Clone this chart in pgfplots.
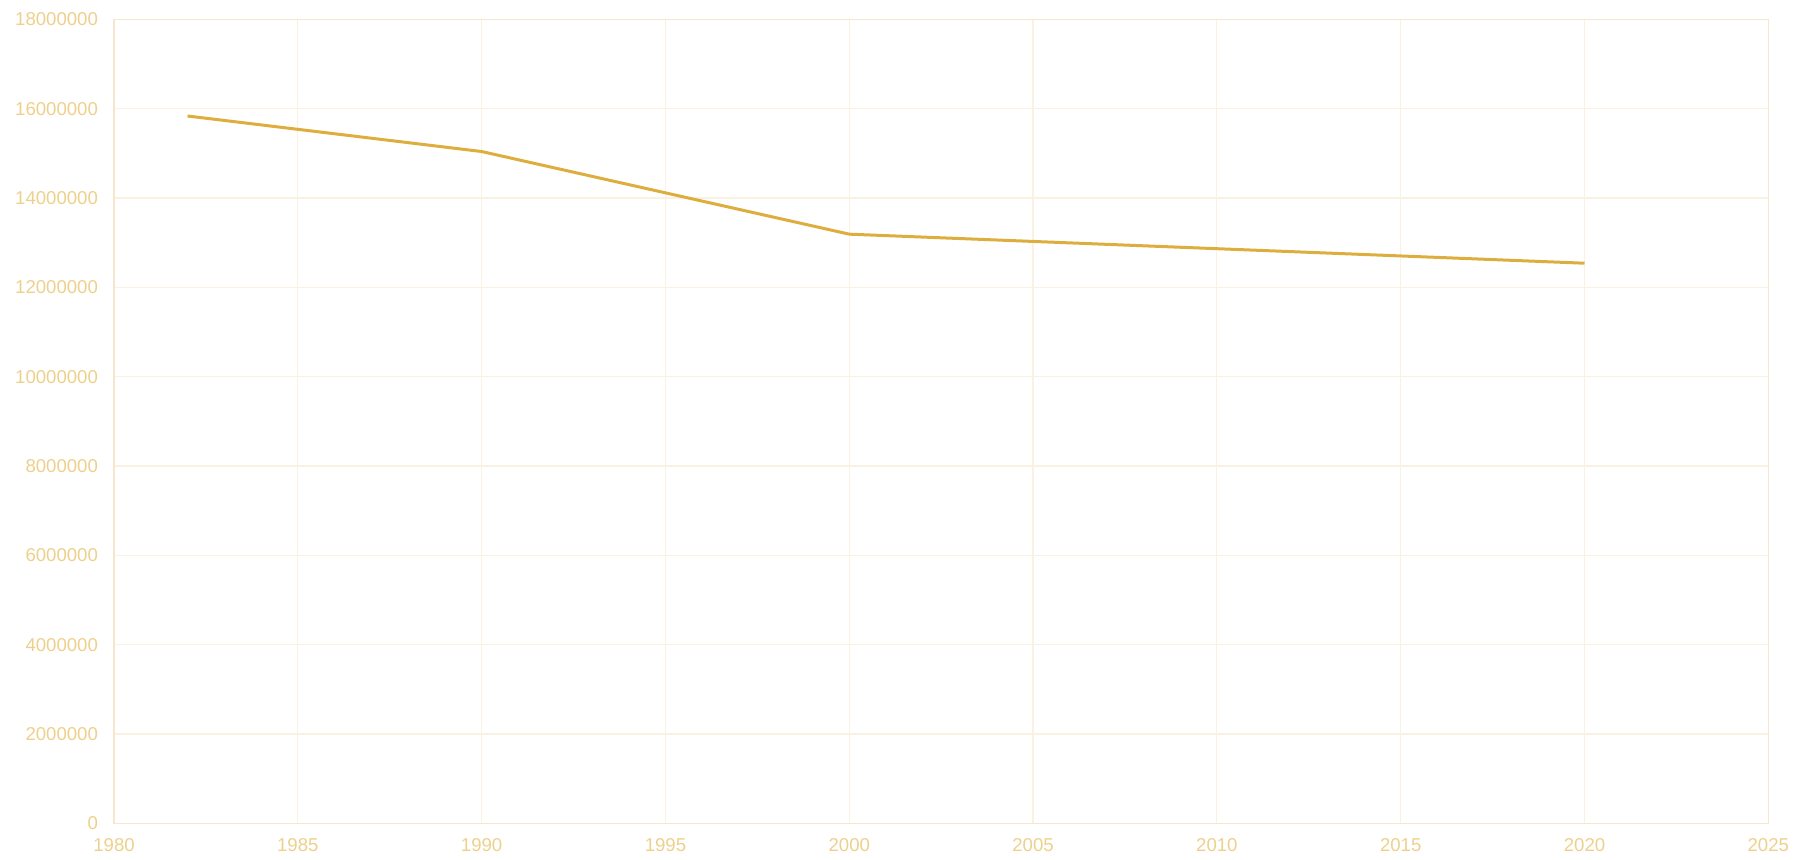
\documentclass[border=0pt]{standalone}
\usepackage{pgfplots}
\pgfplotsset{compat=1.18}
\usepackage{fontspec}
\setmainfont{Liberation Sans}
\definecolor{linec}{HTML}{DDAE3E}
\definecolor{tickc}{HTML}{EDD08C}
\definecolor{gridc}{HTML}{FAF1E0}
\definecolor{framec}{HTML}{F6E7CC}
\begin{document}
\begin{tikzpicture}
\begin{axis}[
  scale only axis,
  width=827pt, height=402pt,
  xmin=1980, xmax=2025, ymin=0, ymax=18000000,
  xtick={1980,1985,...,2025},
  ytick={0,2000000,...,18000000},
  scaled y ticks=false,
  /pgf/number format/assume math mode=true,
  xticklabel style={/pgf/number format/1000 sep={}},
  yticklabel style={/pgf/number format/fixed,/pgf/number format/1000 sep={}},
  tick label style={font=\fontsize{9.3pt}{10pt}\selectfont, text=tickc},
  xticklabel style={yshift=-4pt},
  yticklabel style={xshift=-4.5pt},
  major tick length=0pt,
  grid=major,
  major grid style={gridc, line width=0.6pt},
  axis line style={framec, line width=0.7pt},
  clip=false,
]
\addplot[linec, line width=1.5pt, line join=round] coordinates {
  (1982,15835000) (1990,15040000) (2000,13190000) (2020,12540000)
};
\coordinate (bl) at (axis description cs:-0.06892,-0.0444);
\coordinate (tr) at (axis description cs:1.02037,1.024);
\end{axis}
\pgfresetboundingbox
\path (bl) rectangle (tr);
\end{tikzpicture}
\end{document}
